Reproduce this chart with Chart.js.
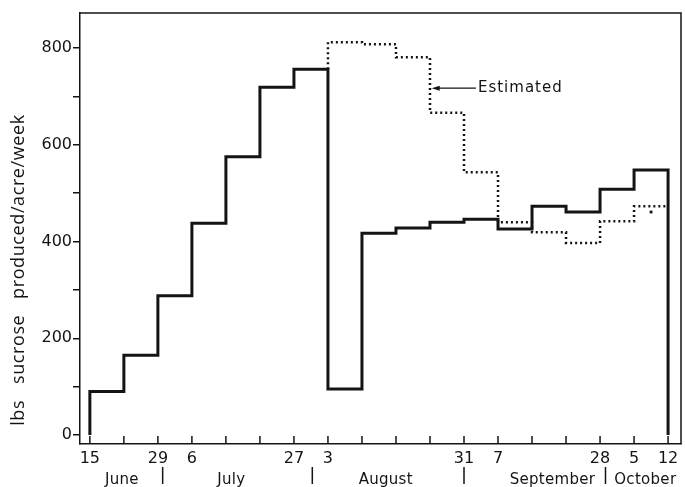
<!DOCTYPE html>
<html>
<head>
<meta charset="utf-8">
<script src="https://cdn.jsdelivr.net/npm/chart.js@4.4.1/dist/chart.umd.min.js"></script>
<style>
  html, body { margin: 0; padding: 0; background: #fff; }
  #wrap { width: 685px; height: 487px; }
</style>
</head>
<body>
<div id="wrap"><canvas id="c" width="685" height="487"></canvas></div>
<script>
// ---- data ----
const weekTickLabels = ['15','','29','6','','','27','3','','','','31','7','','','28','5','12'];
const measured = [90,165,288,438,575,719,756,95,417,428,440,446,426,473,461,508,548];
const estimated = [812,808,781,666,543,440,419,397,442,473];
const estimatedStartWeek = 7;
const yTickValues = [0,100,200,300,400,500,600,700,800];
const yLabelValues = [0,200,400,600,800];
const months = ['June','July','August','September','October'];
const monthCenters = [0.94,4.16,8.7,13.6,16.33];
const monthBounds = [2.14,6.54,11.0,15.16];
const strayMark = [{x:16.5, y:461}];
const estLabel = {text:'Estimated', tipWeek:10.05, textWeek:11.38, value:717};

// ---- build points ----
const nWeeks = measured.length;
const solidPts = [{x:0, y:0}];
measured.forEach((v,i)=>solidPts.push({x:i, y:v}));
solidPts.push({x:nWeeks, y:measured[nWeeks-1]});
solidPts.push({x:nWeeks, y:0});

const dotPts = [{x:estimatedStartWeek, y:measured[estimatedStartWeek-1]}];
estimated.forEach((v,i)=>dotPts.push({x:estimatedStartWeek+i, y:v}));
dotPts.push({x:estimatedStartWeek+estimated.length, y:estimated[estimated.length-1]});

const INK = '#141414';
const FONT = '"DejaVu Sans", sans-serif';

const decor = {
  id: 'decor',
  afterDraw(chart) {
    const ctx = chart.ctx;
    const ca = chart.chartArea;
    const xs = chart.scales.x, ys = chart.scales.y;
    ctx.save();
    ctx.strokeStyle = INK;
    ctx.fillStyle = INK;
    // frame top/right
    ctx.lineWidth = 1.5;
    ctx.beginPath();
    ctx.moveTo(ca.left, ca.top); ctx.lineTo(ca.right, ca.top);
    ctx.lineTo(ca.right, ca.bottom);
    ctx.stroke();
    // inward x ticks
    ctx.lineWidth = 1.5;
    for (let k = 0; k <= nWeeks; k++) {
      const px = xs.getPixelForValue(k);
      ctx.beginPath();
      ctx.moveTo(px, ca.bottom); ctx.lineTo(px, ca.bottom - 8);
      ctx.stroke();
    }
    // month labels
    ctx.font = '15px ' + FONT;
    ctx.textAlign = 'center';
    ctx.textBaseline = 'middle';
    ctx.letterSpacing = '0.3px';
    months.forEach((m,i)=>{
      ctx.fillText(m, xs.getPixelForValue(monthCenters[i]), ca.bottom + 36);
    });
    ctx.lineWidth = 1.5;
    monthBounds.forEach(b=>{
      const px = xs.getPixelForValue(b);
      ctx.beginPath();
      ctx.moveTo(px, ca.bottom + 23); ctx.lineTo(px, ca.bottom + 40);
      ctx.stroke();
    });
    // estimated annotation
    const ty = ys.getPixelForValue(estLabel.value);
    const tipX = xs.getPixelForValue(estLabel.tipWeek);
    const txtX = xs.getPixelForValue(estLabel.textWeek);
    ctx.lineWidth = 1.2;
    ctx.beginPath();
    ctx.moveTo(txtX - 1, ty); ctx.lineTo(tipX + 6, ty);
    ctx.stroke();
    ctx.beginPath();
    ctx.moveTo(tipX, ty); ctx.lineTo(tipX + 8, ty - 2.5); ctx.lineTo(tipX + 8, ty + 2.5);
    ctx.closePath(); ctx.fill();
    ctx.font = '15px ' + FONT;
    ctx.letterSpacing = '1px';
    ctx.textAlign = 'left';
    ctx.fillText(estLabel.text, txtX + 1, ty);
    // y title
    ctx.translate(19, 270);
    ctx.rotate(-Math.PI/2);
    ctx.font = '18px "Open Sans", sans-serif';
    ctx.letterSpacing = '0.6px';
    ctx.textAlign = 'center';
    ctx.fillText('lbs   sucrose   produced/acre/week', 0, 0);
    ctx.restore();
  }
};

new Chart(document.getElementById('c'), {
  type: 'line',
  data: {
    datasets: [
      { label: 'Measured', data: solidPts, stepped: 'before', borderColor: INK, borderWidth: 3,
        pointRadius: 0, fill: false, borderJoinStyle: 'miter' },
      { label: 'Estimated', data: dotPts, stepped: 'before', borderColor: INK, borderWidth: 2.5,
        borderDash: [2, 3], pointRadius: 0, fill: false },
      { type: 'scatter', label: 'mark', data: strayMark, pointStyle: 'rect', pointRadius: 2,
        backgroundColor: INK, borderColor: INK, borderWidth: 0 }
    ]
  },
  options: {
    responsive: false,
    animation: false,
    devicePixelRatio: 1,
    layout: { padding: { left: 0, right: 2, top: 13, bottom: 0 } },
    plugins: { legend: { display: false }, tooltip: { enabled: false } },
    scales: {
      x: {
        type: 'linear', min: -0.29, max: 17.38,
        afterBuildTicks: s => { s.ticks = weekTickLabels.map((_,i)=>({value:i})); },
        afterFit: s => { s.height = 43; },
        ticks: { autoSkip: false, maxRotation: 0, padding: 5, color: INK,
                 font: { family: FONT, size: 16 },
                 callback: (v) => weekTickLabels[v] ?? '' },
        grid: { drawOnChartArea: false, drawTicks: false },
        border: { color: INK, width: 1.5 }
      },
      y: {
        min: -18.6, max: 872.4,
        afterBuildTicks: s => { s.ticks = yTickValues.map(v=>({value:v})); },
        afterFit: s => { s.width = 80; },
        ticks: { padding: 1, color: INK, font: { family: FONT, size: 16 },
                 callback: v => yLabelValues.includes(v) ? String(v) : '' },
        grid: { drawOnChartArea: false, drawTicks: true, tickLength: 7, color: INK, lineWidth: 1.5 },
        border: { color: INK, width: 1.5 }
      }
    }
  },
  plugins: [decor]
});
</script>
</body>
</html>
